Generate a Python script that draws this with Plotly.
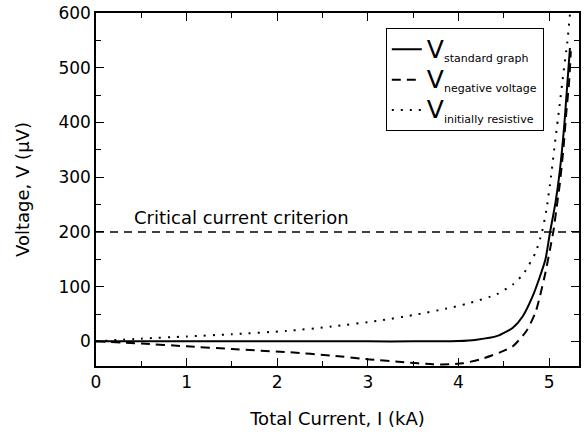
import plotly.graph_objects as go

# Standard graph
I_std = [0, 0.5, 1.0, 1.5, 2.0, 2.5, 3.0, 3.5, 4.0, 4.2, 4.43, 4.6, 4.71, 4.82, 4.9, 4.96, 5.01, 5.07, 5.12, 5.17, 5.23]
V_std = [0, 0, 0, 0, 0, 0, 0, 0, 0.5, 3, 10, 25, 46, 83, 119, 150, 199, 253, 314, 400, 536]

# Negative voltage
I_neg = [0, 0.5, 1.0, 1.5, 2.14, 2.6, 3.02, 3.4, 3.72, 3.9, 4.05, 4.24, 4.46, 4.6, 4.75, 4.85, 4.9, 4.96, 5.01, 5.05, 5.08, 5.12, 5.16, 5.19, 5.22, 5.24]
V_neg = [0, -4, -9, -14, -20, -26, -33, -38, -42, -42, -40, -33, -20, -9, 19, 53, 83, 126, 168, 204, 241, 290, 356, 418, 472, 530]

# Initially resistive
I_res = [0, 0.5, 1.0, 1.5, 2.1, 2.6, 3.13, 3.5, 3.87, 4.1, 4.42, 4.6, 4.71, 4.85, 4.92, 4.97, 5.02, 5.07, 5.11, 5.16, 5.2, 5.23]
V_res = [0, 5, 9, 13, 19, 27, 38, 48, 60, 69, 86, 104, 122, 162, 199, 240, 300, 370, 423, 493, 545, 597]

criterion = 200
x_range = [0, 5.33]
y_range = [-45, 600]

FONT = "DejaVu Sans, sans-serif"

def leg(name):
    return ("<span style='font-size:25px'>V</span><sub><span style='font-size:11px'>"
            + name + "</span></sub>")

fig = go.Figure()
fig.add_trace(go.Scatter(x=I_std, y=V_std, mode="lines", name=leg("standard graph"),
                         line=dict(color="black", width=2, shape="spline", smoothing=0.6)))
fig.add_trace(go.Scatter(x=I_neg, y=V_neg, mode="lines", name=leg("negative voltage"),
                         line=dict(color="black", width=2, dash="9px,6px", shape="spline", smoothing=0.6)))
fig.add_trace(go.Scatter(x=I_res, y=V_res, mode="lines", name=leg("initially resistive"),
                         line=dict(color="black", width=2, dash="2px,7px", shape="spline", smoothing=0.6)))

fig.add_hline(y=criterion, line=dict(color="black", width=1.5, dash="8px,6px"))
fig.add_annotation(x=0.4, y=criterion, xref="x", yref="y", text="Critical current criterion",
                   showarrow=False, xanchor="left", yanchor="bottom", yshift=2,
                   font=dict(size=18, color="black", family=FONT))

axis_common = dict(showgrid=False, zeroline=False, showline=True, linecolor="black", linewidth=1.5,
                   mirror="ticks", ticks="inside", ticklen=8, tickwidth=1.3, tickcolor="black",
                   automargin=False,
                   tickfont=dict(size=17, color="black", family=FONT))

fig.update_xaxes(range=x_range, dtick=1, tick0=0,
                 minor=dict(dtick=0.5, ticks="inside", ticklen=5, tickcolor="black", tickwidth=1.3),
                 title=dict(text="Total Current, I (kA)", font=dict(size=18, color="black", family=FONT), standoff=21),
                 **axis_common)
fig.update_yaxes(range=y_range, dtick=100, tick0=0,
                 minor=dict(dtick=50, ticks="inside", ticklen=5, tickcolor="black", tickwidth=1.3),
                 title=dict(text="Voltage, V (μV)", font=dict(size=18, color="black", family=FONT), standoff=24),
                 **axis_common)

fig.update_layout(
    width=585, height=439,
    margin=dict(l=96, r=6, t=13, b=73),
    paper_bgcolor="white", plot_bgcolor="white",
    font=dict(family=FONT, color="black"),
    showlegend=True,
    legend=dict(x=0.6, y=0.957, xanchor="left", yanchor="top",
                bordercolor="black", borderwidth=1, bgcolor="white",
                font=dict(size=21, color="black", family=FONT),
                tracegroupgap=0, itemwidth=30),
)

fig.write_html("out.html", config={"displayModeBar": False},
               post_script="document.body.style.margin='0';document.body.style.overflow='hidden';")
